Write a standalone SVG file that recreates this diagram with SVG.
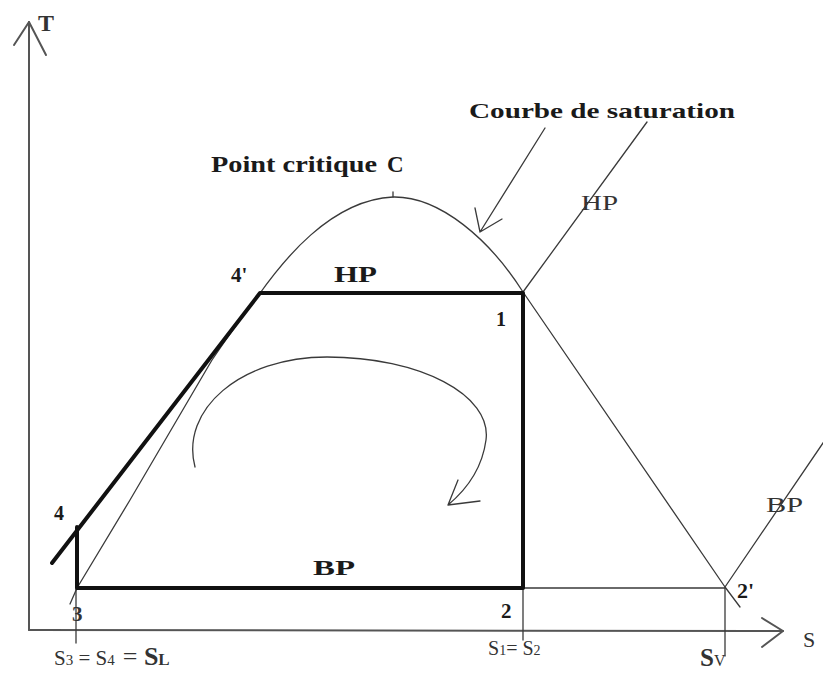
<svg xmlns="http://www.w3.org/2000/svg" width="823" height="673" viewBox="0 0 823 673">
<style>
.thin{fill:none;stroke:#3a3a3a;stroke-width:1.3;stroke-linecap:round;stroke-linejoin:round}
.axis{fill:none;stroke:#555;stroke-width:2;stroke-linecap:round}
.bold{fill:none;stroke:#111;stroke-width:4;stroke-linecap:round;stroke-linejoin:round}
.lbl{font-family:"Liberation Serif","Times New Roman",serif;font-weight:bold;fill:#1a1a1a}
.reg{font-family:"Liberation Serif","Times New Roman",serif;fill:#333}
</style>
<rect width="823" height="673" fill="#fff"/>
<g id="axes">
<path class="axis" d="M29,630 L29,22"/>
<path class="axis" d="M29,22 L14,45 M29,22 L46,55" stroke-width="1.6"/>
<path class="axis" d="M29,630 L783,631"/>
<path class="axis" d="M783,631 L762,618 M783,631 L762,647" stroke-width="1.6"/>
<text class="reg" x="38" y="31" font-size="24" font-weight="bold">T</text>
<text class="reg" x="803" y="647" font-size="22">S</text>
</g>
<g id="saturation-curve">
<path class="thin" d="M70,604 L77,588 L130,500 L212,360 C228,336 244,314 258,296 C282,262 330,200 393,197 C440,196 490,240 523,292 L725,587 L740,607"/>
<path class="thin" d="M393,197 L393,192"/>
</g>
<g id="connectors">
<path class="thin" d="M523,292 L647,122"/>
<path class="thin" d="M725,587 L840,418"/>
<path class="thin" d="M523,588 L725,588"/>
<path class="thin" d="M76,588 L76,643"/>
<path class="thin" d="M523,588 L523,640"/>
<path class="thin" d="M725,588 L725,656"/>
<path class="thin" d="M545,128 L480,232 M480,232 L475,208 M480,232 L502,219"/>
<path class="thin" d="M195,467 C180,410 240,357 327,357 C420,357 492,395 486,440 C482,470 466,490 448,505 M448,505 L458,480 M448,505 L480,501" stroke-width="1.4"/>
</g>
<g id="cycle">
<path class="bold" d="M52,563 L260,293 L523,293 L523,588 L77,588 L77,527"/>
</g>
<g id="point-1"><text class="lbl" x="496" y="326" font-size="20">1</text></g>
<g id="point-2"><text class="lbl" x="501" y="618" font-size="21">2</text></g>
<g id="point-2p"><text class="lbl" x="737" y="598" font-size="22">2'</text></g>
<g id="point-3"><text class="reg" x="72" y="621" font-size="21" font-weight="bold">3</text></g>
<g id="point-4"><text class="lbl" x="54" y="520" font-size="20">4</text></g>
<g id="point-4p"><text class="lbl" x="231" y="282" font-size="21">4'</text></g>
<g id="labels">
<text class="lbl" x="211" y="172" font-size="23" textLength="166" lengthAdjust="spacingAndGlyphs">Point critique</text>
<text class="lbl" x="387" y="172" font-size="23">C</text>
<text class="lbl" x="469" y="118" font-size="22" textLength="266" lengthAdjust="spacingAndGlyphs">Courbe de saturation</text>
<text class="lbl" x="334" y="282" font-size="23" textLength="43" lengthAdjust="spacingAndGlyphs">HP</text>
<text class="reg" x="581" y="210" font-size="22" textLength="37" lengthAdjust="spacingAndGlyphs">HP</text>
<text class="lbl" x="313" y="575" font-size="22" textLength="42" lengthAdjust="spacingAndGlyphs">BP</text>
<text class="reg" x="766" y="512" font-size="21" textLength="37" lengthAdjust="spacingAndGlyphs">BP</text>
<text class="reg" x="54" y="665" font-size="21">S<tspan font-size="15">3</tspan> = S<tspan font-size="15">4</tspan><tspan font-size="26" dx="8">= </tspan><tspan font-size="26" font-weight="bold">S</tspan><tspan font-size="17" font-weight="bold">L</tspan></text>
<text class="reg" x="488" y="655" font-size="20">S<tspan font-size="14">1</tspan>= S<tspan font-size="14">2</tspan></text>
<text class="reg" x="700" y="666" font-size="25" font-weight="bold">S<tspan font-size="16" font-weight="normal">V</tspan></text>
</g>
</svg>
